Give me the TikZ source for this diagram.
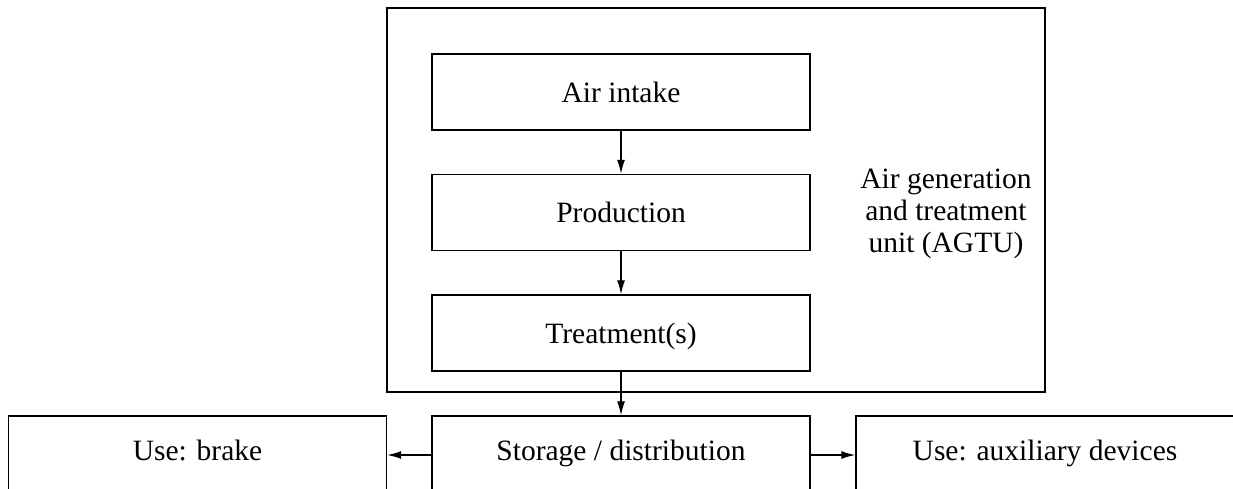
\documentclass[tikz,border=0pt]{standalone}
\usepackage{fontspec}
\setmainfont{Liberation Serif}
\usetikzlibrary{arrows.meta}
\tikzset{
  box/.style={draw, line width=1.4pt, minimum width=378pt, minimum height=76pt, inner sep=0pt, text height=26pt, text depth=6pt, font=\fontsize{29.5}{32}\selectfont},
  lowbox/.style={box, text depth=13pt},
  outerbox/.style={draw, line width=1.4pt, minimum width=658pt, minimum height=384pt, inner sep=0pt},
  lbl/.style={align=center, font=\fontsize{29.5}{32}\selectfont, inner sep=0pt},
  arr/.style={line width=1.3pt, -{Latex[length=14pt,width=8pt]}}
}
\begin{document}
\begin{tikzpicture}[x=1pt,y=-1pt]
\clip (0,0) rectangle (1233,488);
\fill[white] (0,0) rectangle (1233,488);
\node[outerbox] (agtu) at (716,200) {};
\node[box] (intake) at (621,92) {Air intake};
\node[box] (prod) at (621,212.5) {Production};
\node[box] (treat) at (621,333) {Treatment(s)};
\node[lowbox] (stor) at (621,454) {Storage / distribution};
\node[lowbox] (brake) at (197.5,454) {Use: brake};
\node[lowbox] (aux) at (1045,454) {Use: auxiliary devices};
\node[lbl] (agtulbl) at (946,214) {Air generation\\and treatment\\unit (AGTU)};
\draw[arr] (intake) -- (prod);
\draw[arr] (prod) -- (treat);
\draw[arr] (treat) -- (stor);
\draw[arr] (stor.west |- 0,455) -- (brake.east |- 0,455);
\draw[arr] (stor.east |- 0,455) -- (aux.west |- 0,455);
\end{tikzpicture}
\end{document}
